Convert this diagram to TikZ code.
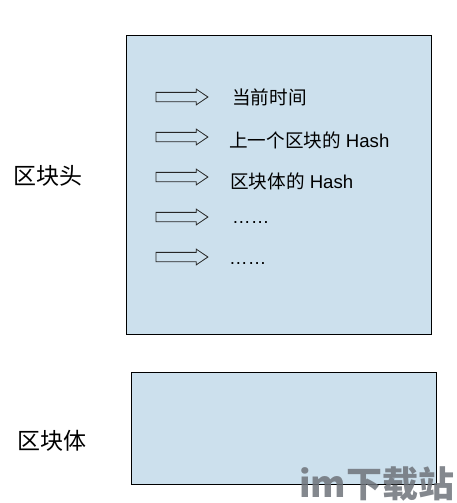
\documentclass[tikz,border=0pt]{standalone}
\usepackage{fontspec}
\setmainfont{Liberation Sans}
\newfontfamily\cjk{Noto Sans CJK SC}
\usetikzlibrary{shapes.arrows}
\definecolor{boxblue}{RGB}{204,224,237}
\definecolor{wmgrey}{RGB}{110,115,122}
\tikzset{
  blockbox/.style={draw=black, line width=0.9pt, fill=boxblue, inner sep=0pt, anchor=north west},
  fieldarrow/.style={single arrow, draw=black!85, line width=0.8pt, fill=none,
    inner xsep=0pt, inner ysep=4.25pt,
    minimum height=52pt, single arrow head extend=3.25pt,
    single arrow tip angle=68, anchor=west},
  fieldtext/.style={anchor=base west, inner sep=0pt, font=\fontsize{18.6}{20}\selectfont},
  sidelabel/.style={anchor=west, inner sep=0pt, font=\cjk\fontsize{23}{25}\selectfont},
}
\begin{document}
\begin{tikzpicture}[x=1pt,y=-1pt]
\useasboundingbox (0,0) rectangle (456,503);
\node[blockbox, minimum width=305pt, minimum height=299pt] (head) at (126,35) {};
\node[blockbox, minimum width=305pt, minimum height=112pt] (body) at (131,372) {};

\node[sidelabel] (headlabel) at (13,176) {区块头};
\node[sidelabel] (bodylabel) at (17,441) {区块体};

\node[fieldarrow] (a1) at (155.5,97) {};
\node[fieldarrow] (a2) at (155.5,137) {};
\node[fieldarrow] (a3) at (155.5,177) {};
\node[fieldarrow] (a4) at (155.5,217) {};
\node[fieldarrow] (a5) at (155.5,257) {};

\node[fieldtext] (t1) at (232,104.5) {\cjk 当前时间};
\node[fieldtext] (t2) at (229,147.5) {{\cjk 上一个区块的} Hash};
\node[fieldtext] (t3) at (230,188) {{\cjk 区块体的} Hash};
\node[fieldtext] (t4) at (232,223) {……};
\node[fieldtext] (t5) at (229,264) {……};

\node[anchor=base west, inner sep=0pt, text=wmgrey, opacity=0.85,
  font=\cjk\bfseries\fontsize{36}{38}\selectfont] (wm) at (299,497) {im下载站};
\end{tikzpicture}
\end{document}
